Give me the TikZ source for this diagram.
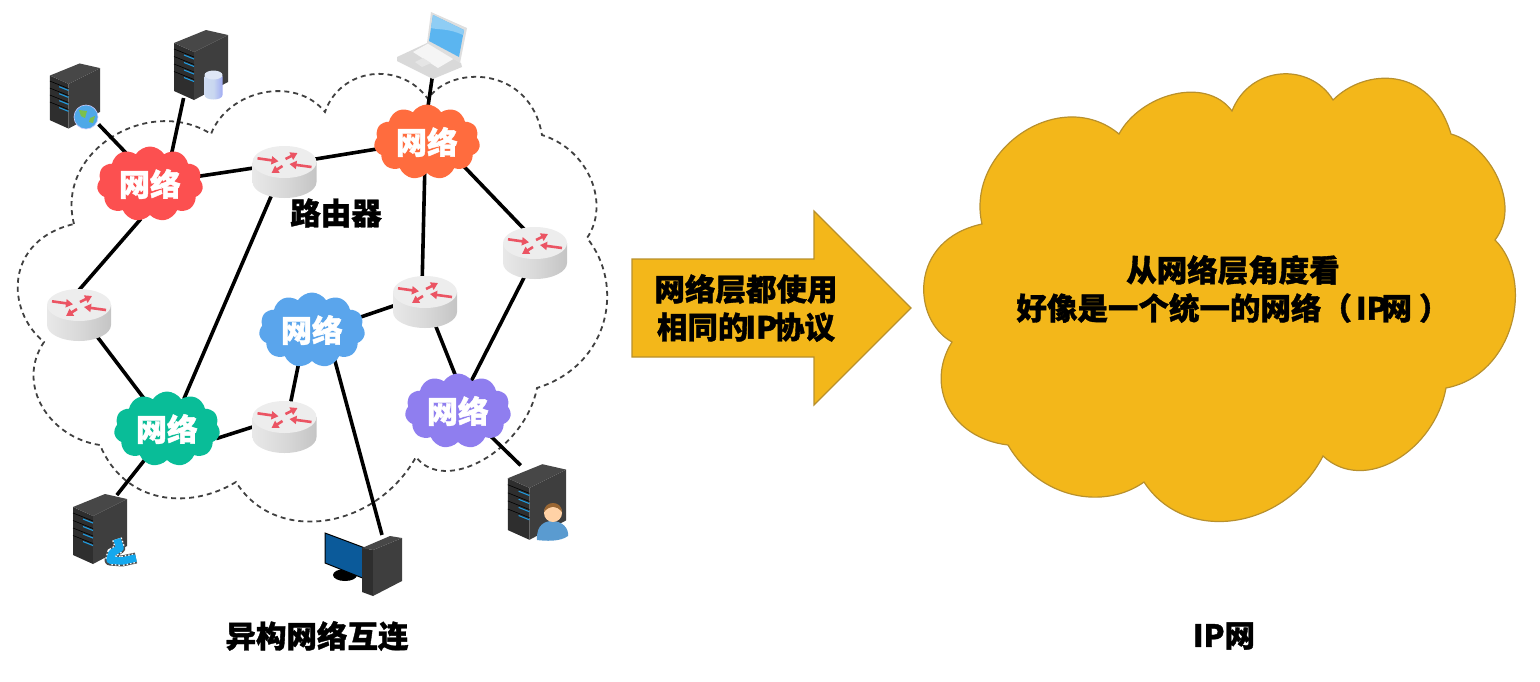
\documentclass[tikz,border=0pt]{standalone}
\usepackage{fontspec}
\usepackage{xcolor}
\setmainfont[BoldFeatures={FakeBold=1.2}]{Noto Sans CJK SC}
\usetikzlibrary{arrows.meta, backgrounds, shapes.geometric, shapes.symbols}
\definecolor{goldFill}{HTML}{F3B71A}
\definecolor{goldEdge}{HTML}{B8902C}
\definecolor{netRed}{HTML}{FC5050}
\definecolor{netOrange}{HTML}{FF6C3E}
\definecolor{netBlue}{HTML}{5AA5EC}
\definecolor{netGreen}{HTML}{09BD98}
\definecolor{netPurple}{HTML}{8F7EEF}
\definecolor{arrowRed}{HTML}{EB5463}
\definecolor{towerDark}{HTML}{2E2E2E}
\definecolor{towerGrey}{HTML}{3E3E3E}
\definecolor{ledBlue}{HTML}{1E9BE0}
\definecolor{filmBlue}{HTML}{14A8EE}
\definecolor{globeBlue}{HTML}{4FA8E8}
\definecolor{globeGreen}{HTML}{7CC04C}
\definecolor{screenBlue}{HTML}{5BB5F0}
\definecolor{screenPale}{HTML}{8FCDF4}
\definecolor{monitorBlue}{HTML}{0B5A9A}
\definecolor{userBlue}{HTML}{5A9BD0}
\definecolor{diskPale}{HTML}{C9D7F0}
\newcommand{\netname}{\raisebox{2pt}{网络}}
\tikzset{
    link/.style={line width=3.6pt, black, shorten >=-2pt, shorten <=-2pt},
    hub/.style={inner sep=0pt, outer sep=0pt},
    routerhub/.style={hub, ellipse, minimum width=64pt, minimum height=52pt},
    netcloud/.style={cloud, cloud puffs=11, cloud puff arc=115, cloud ignores aspect, inner sep=0pt,
        minimum width=106pt, minimum height=75pt, text=white, font=\fontsize{31}{32}\selectfont\bfseries},
    caption/.style={align=center, font=\fontsize{30.5}{38}\selectfont\bfseries},
    goldshape/.style={fill=goldFill, draw=goldEdge, line width=1.2pt},
    routerarrow/.style={arrowRed, line width=2.6pt, -{Triangle[length=7pt, width=8pt]}},
    routerpic/.pic={
        \shade[left color=black!9, right color=black!23, middle color=black!15]
            (-32,-10) -- (-32,10) .. controls (-32,18.8) and (-17.7,26) .. (0,26)
            .. controls (17.7,26) and (32,18.8) .. (32,10) -- (32,-10) -- cycle;
        \fill[black!7] (0,-10) ellipse [x radius=32, y radius=16];
        \draw[routerarrow] (-27,-13.7) -- (-6,-10.7);
        \draw[routerarrow] (1,-13) -- (13,-19);
        \draw[routerarrow] (27,-5) -- (5,-8);
        \draw[routerarrow] (-2,-6) -- (-13,1);
    },
    towerpic/.pic={
        \fill[towerDark] (-27,-22) -- (-7,-13) -- (-7,35) -- (-27,26) -- cycle;
        \fill[towerGrey] (-7,-13) -- (27,-30) -- (27,17) -- (-7,35) -- cycle;
        \fill[black!72] (-27,-22) -- (5,-35) -- (27,-30) -- (-7,-13) -- cycle;
        \foreach \k in {0,1,2,3} {
            \draw[black, line width=0.6pt] (-27,{-16+7.5*\k}) -- (-7,{-8+7.5*\k});
            \draw[ledBlue, line width=1.1pt] (-17,{-10+7.5*\k}) -- (-7,{-6+7.5*\k});
        }
    },
}
\begin{document}
\begin{tikzpicture}[x=1pt, y=-1pt]
    \useasboundingbox (0,0) rectangle (1540,681);

    \foreach \name/\x/\y in {routerA/284.5/172, routerB/535/253, routerC/425/302, routerD/79/315, routerE/284.5/427}
        \node[routerhub] (\name) at (\x,\y) {};
    \node[hub, minimum width=50pt, minimum height=65pt] (serverWeb) at (75,96) {};
    \node[hub, minimum width=54pt, minimum height=70pt] (serverDb) at (201,65) {};
    \node[hub, minimum width=54pt, minimum height=71pt] (serverVideo) at (100,529) {};
    \node[hub, minimum width=58pt, minimum height=76pt] (serverUser) at (537,502) {};
    \node[hub, minimum width=72pt, minimum height=66pt] (laptop) at (431,45) {};
    \node[hub, minimum width=78pt, minimum height=64pt] (desktop) at (363,565) {};

    \node[netcloud, fill=netRed] (netRed) at (150,184) {\netname};
    \node[netcloud, fill=netOrange] (netOrange) at (427,142) {\netname};
    \node[netcloud, fill=netBlue] (netBlue) at (312,330) {\netname};
    \node[netcloud, fill=netGreen] (netGreen) at (167,429) {\netname};
    \node[netcloud, fill=netPurple] (netPurple) at (458,411) {\netname};

    \begin{scope}[on background layer]
        \draw[black!75, line width=1.8pt, dash pattern=on 5pt off 4pt]
            (74,224) .. controls (55,150) and (150,95) .. (211,134)
            .. controls (228,90) and (295,75) .. (325,112)
            .. controls (340,68) and (400,60) .. (428,99)
            .. controls (450,65) and (530,65) .. (542,135)
            .. controls (590,150) and (610,205) .. (587,238)
            .. controls (625,285) and (610,365) .. (537,388)
            .. controls (525,450) and (445,495) .. (416,457)
            .. controls (375,530) and (275,545) .. (236,482)
            .. controls (190,510) and (125,505) .. (100,445)
            .. controls (50,438) and (15,385) .. (44,342)
            .. controls (5,310) and (5,240) .. (74,224);
        \draw[link] (serverWeb.-50) -- (netRed.128);
        \draw[link] (serverDb.-117) -- (netRed.56);
        \draw[link] (netRed.9) -- (routerA.173);
        \draw[link] (routerA.24) -- (netOrange.188);
        \draw[link] (laptop.-88) -- (netOrange.88);
        \draw[link] (netOrange.-34) -- (routerB.115);
        \draw[link] (netOrange.-94) -- (routerC.96);
        \draw[link] (routerB.-114) -- (netPurple.66);
        \draw[link] (routerC.-66) -- (netPurple.95);
        \draw[link] (routerC.187) -- (netBlue.15);
        \draw[link] (netBlue.-111) -- (routerE.76);
        \draw[link] (netBlue.-54) -- (desktop.60);
        \draw[link] (netGreen.-10) -- (routerE.180);
        \draw[link] (routerA.-119) -- (netGreen.61);
        \draw[link] (routerD.88) -- (netRed.254);
        \draw[link] (routerD.-50) -- (netGreen.127);
        \draw[link] (netGreen.-126) -- (serverVideo.63);
        \draw[link] (netPurple.-38) -- (serverUser.115);
    \end{scope}

    \foreach \name in {routerA, routerB, routerC, routerD, routerE}
        \pic at (\name) {routerpic};

    \pic[scale=0.93] at (serverWeb) {towerpic};
    \pic at (serverDb) {towerpic};
    \pic at (serverVideo) {towerpic};
    \pic[scale=1.08] at (serverUser) {towerpic};

    \fill[globeBlue, draw=white!80!blue, line width=0.6pt] (86,117) circle (12);
    \fill[globeGreen] (79,110) -- (87,111) -- (85,118) -- (81,116) -- cycle;
    \fill[globeGreen] (90,118) -- (95,116) -- (93,123) -- (89,122) -- cycle;

    \shade[left color=diskPale!90!white, right color=diskPale!80!blue, middle color=diskPale] (204.5,76) -- (204.5,95) .. controls (204.5,101) and (222.5,101) .. (222.5,95) -- (222.5,76) -- cycle;
    \fill[diskPale!60!white] (213.5,75) ellipse [x radius=9, y radius=4.5];

    \draw[black!70, line width=11pt, line join=round] (117,539) -- (120,548) -- (112,553) -- (110,560) -- (122,561) -- (136,558);
    \draw[white, line width=10pt, dash pattern=on 1.5pt off 2pt] (117,539) -- (120,548) -- (112,553) -- (110,560) -- (122,561) -- (136,558);
    \draw[filmBlue, line width=7.5pt, line join=round] (117,539) -- (120,548) -- (112,553) -- (110,560) -- (122,561) -- (136,558);

    \fill[userBlue] (537,540) .. controls (536,524) and (546,521) .. (552,521)
        .. controls (562,521) and (569,528) .. (568,536) .. controls (560,542) and (545,541) .. (537,540) -- cycle;
    \fill[orange!35!white] (553,513) circle (9);
    \fill[brown!80!black] (544,512) .. controls (544,500) and (562,500) .. (562,512) .. controls (556,505) and (550,505) .. (544,512) -- cycle;

    \fill[black!15] (397,57) -- (427,43) -- (461,63) -- (462,67) -- (433,79) -- (397,61) -- cycle;
    \fill[black!4] (413,52) -- (429,43) -- (455,58) -- (438,68) -- cycle;
    \fill[black!10] (415,62) -- (423,58) -- (431,63) -- (422,67) -- cycle;
    \fill[black!13] (431,12) -- (467,28) -- (460,63) -- (427,43) -- cycle;
    \fill[screenBlue] (433,15) -- (464,30) -- (459,57) -- (429,41) -- cycle;
    \fill[screenPale] (433,15) -- (464,30) -- (463,35) .. controls (448,28) and (438,30) .. (431,28) -- cycle;

    \fill[black] (345,575) ellipse [x radius=12, y radius=6];
    \fill[monitorBlue] (325,533) -- (365,548) -- (365,579) -- (325,563) -- cycle;
    \draw[black, line width=1pt] (325,533) -- (365,548) -- (365,579) -- (325,563) -- cycle;
    \fill[towerDark] (362,548) -- (373,550) -- (373,596) -- (362,592) -- cycle;
    \fill[towerGrey] (373,550) -- (402,538) -- (402,581) -- (373,596) -- cycle;
    \fill[black!72] (362,548) -- (390,536) -- (402,538) -- (373,550) -- cycle;

    \draw[goldshape] (982,224)
        .. controls (965,150) and (1060,85) .. (1119,134)
        .. controls (1140,95) and (1205,75) .. (1232,111)
        .. controls (1250,65) and (1310,62) .. (1333,100)
        .. controls (1365,68) and (1430,65) .. (1451,134)
        .. controls (1490,145) and (1522,205) .. (1495,240)
        .. controls (1535,280) and (1515,375) .. (1446,388)
        .. controls (1435,450) and (1365,495) .. (1323,456)
        .. controls (1285,530) and (1185,545) .. (1144,482)
        .. controls (1105,510) and (1040,500) .. (1008,445)
        .. controls (950,438) and (925,385) .. (952,342)
        .. controls (912,320) and (908,240) .. (982,224) -- cycle;
    \draw[goldshape] (632,259) -- (814,259) -- (814,211) -- (911,308) -- (814,405) -- (814,357) -- (632,357) -- cycle;

    \node[caption] (routerLabel) at (336,213) {路由器};
    \node[caption] (arrowLabel) at (746,308) {网络层都使用\\相同的\kern-3pt IP\kern-3pt 协议};
    \node[caption] (cloudLabel) at (1233,289) {从网络层角度看\\好像是一个统一的网络（\kern-3pt\ IP\kern-6pt 网 ）};
    \node[caption] (leftLabel) at (317,636) {异构网络互连};
    \node[caption] (rightLabel) at (1224,636) {IP网};
\end{tikzpicture}
\end{document}
